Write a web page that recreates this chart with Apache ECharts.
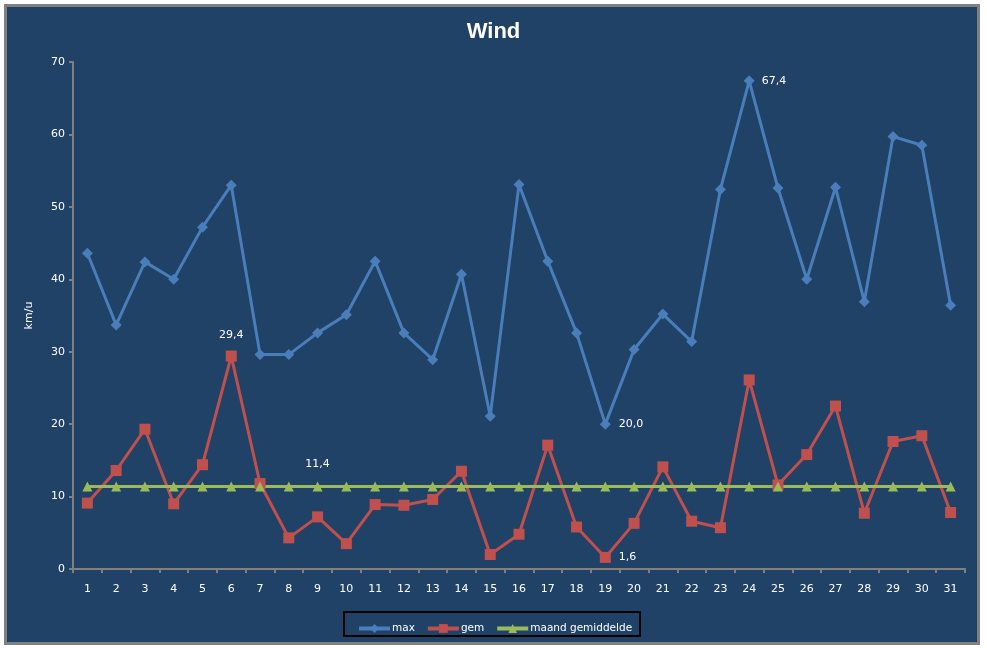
<!DOCTYPE html>
<html>
<head>
<meta charset="utf-8">
<script src="https://cdn.jsdelivr.net/npm/echarts@6/dist/echarts.min.js"></script>
<style>
  html, body { margin: 0; padding: 0; background: #ffffff; }
  #chart { width: 987px; height: 648px; }
</style>
</head>
<body>
<div id="chart"></div>
<script>
// dagen van de maand
var days = ['1','2','3','4','5','6','7','8','9','10','11','12','13','14','15','16','17','18','19','20','21','22','23','24','25','26','27','28','29','30','31'];
// max windsnelheid (km/u)
var maxWind = [43.6, 33.7, 42.4, 40.0, 47.2, 53.0, 29.6, 29.6, 32.6, 35.1, 42.5, 32.6, 28.9, 40.7, 21.1, 53.1, 42.5, 32.6, 20.0, 30.3, 35.2, 31.4, 52.4, 67.4, 52.6, 40.0, 52.7, 36.9, 59.7, 58.5, 36.4];
// gemiddelde windsnelheid (km/u)
var gemWind = [9.1, 13.6, 19.3, 9.0, 14.4, 29.4, 11.8, 4.3, 7.2, 3.5, 8.9, 8.8, 9.6, 13.5, 2.0, 4.8, 17.1, 5.8, 1.6, 6.3, 14.1, 6.6, 5.7, 26.1, 11.6, 15.8, 22.5, 7.7, 17.6, 18.4, 7.8];
// maandgemiddelde
var maandGem = 11.4;
var yTicks = { min: 0, max: 70, interval: 10 };

var labelFont = 'DejaVu Sans';

function komma(v) {
	return v.toFixed(1).replace('.', ',');
}

// losse datalabels zoals in het origineel
function withLabel(values, idx, pos, dist) {
	return values.map(function(v, i){
		if (i !== idx) return v;
		return {
			value: v,
			label: {
				show: true, position: pos, distance: dist,
				color: '#ffffff', fontFamily: labelFont, fontSize: 11,
				formatter: function(p){ return komma(p.value); }
			}
		};
	});
}

var maxIdx = maxWind.indexOf(Math.max.apply(null, maxWind));
var minMaxIdx = maxWind.indexOf(Math.min.apply(null, maxWind));
var gemMaxIdx = gemWind.indexOf(Math.max.apply(null, gemWind));
var gemMinIdx = gemWind.indexOf(Math.min.apply(null, gemWind));

var maxData = withLabel(withLabel(maxWind, maxIdx, 'right', 7), minMaxIdx, 'right', 8);
var gemData = withLabel(withLabel(gemWind, gemMaxIdx, 'top', 10), gemMinIdx, 'right', 8);
var avgData = withLabel(days.map(function(){ return maandGem; }), 8, 'top', 12);

var myChart = echarts.init(document.getElementById('chart'));
var option = {
	animation: false,
	backgroundColor: '#ffffff',
	graphic: [
		{
			type: 'rect', z: -10,
			shape: { x: 5.5, y: 5.5, width: 973, height: 638 },
			style: { fill: '#1f4266', stroke: '#808080', lineWidth: 3 }
		},
		{
			type: 'rect', z: 0,
			shape: { x: 344, y: 612, width: 296, height: 24 },
			style: { fill: 'none', stroke: '#000000', lineWidth: 2 }
		}
	],
	title: {
		text: 'Wind',
		left: 'center',
		top: 16,
		textStyle: { color: '#ffffff', fontFamily: 'Liberation Sans', fontWeight: 'bold', fontSize: 22 }
	},
	legend: {
		left: 352,
		top: 618,
		itemWidth: 31,
		itemHeight: 11,
		itemGap: 11,
		lineStyle: { width: 4 },
		textStyle: { color: '#ffffff', fontFamily: labelFont, fontSize: 10.5, padding: [0, 0, 0, -3] },
		data: ['max', 'gem', 'maand gemiddelde']
	},
	grid: { left: 73, right: 22, top: 62, bottom: 79 },
	xAxis: {
		type: 'category',
		data: days,
		boundaryGap: true,
		axisLine: { lineStyle: { color: '#808080', width: 2 } },
		axisTick: { show: true, length: 4, lineStyle: { color: '#808080', width: 2 } },
		axisLabel: { color: '#ffffff', fontFamily: labelFont, fontSize: 11, margin: 15 },
		splitLine: { show: false }
	},
	yAxis: {
		type: 'value',
		min: yTicks.min,
		max: yTicks.max,
		interval: yTicks.interval,
		name: 'km/u',
		nameLocation: 'middle',
		nameGap: 38,
		nameTextStyle: { color: '#ffffff', fontFamily: labelFont, fontSize: 11 },
		axisLine: { show: true, lineStyle: { color: '#808080', width: 2 } },
		axisTick: { show: true, length: 4, lineStyle: { color: '#808080', width: 2 } },
		axisLabel: { color: '#ffffff', fontFamily: labelFont, fontSize: 11, margin: 8 },
		splitLine: { show: false }
	},
	series: [
		{
			name: 'max',
			type: 'line',
			data: maxData,
			symbol: 'diamond',
			symbolSize: 11,
			lineStyle: { color: '#4a7ebb', width: 3 },
			itemStyle: { color: '#4a7ebb' }
		},
		{
			name: 'gem',
			type: 'line',
			data: gemData,
			symbol: 'rect',
			symbolSize: 11,
			lineStyle: { color: '#c0504d', width: 3 },
			itemStyle: { color: '#c0504d' }
		},
		{
			name: 'maand gemiddelde',
			type: 'line',
			data: avgData,
			symbol: 'triangle',
			symbolSize: 10,
			lineStyle: { color: '#9bbb59', width: 3 },
			itemStyle: { color: '#9bbb59' }
		}
	]
};
myChart.setOption(option);
</script>
</body>
</html>
